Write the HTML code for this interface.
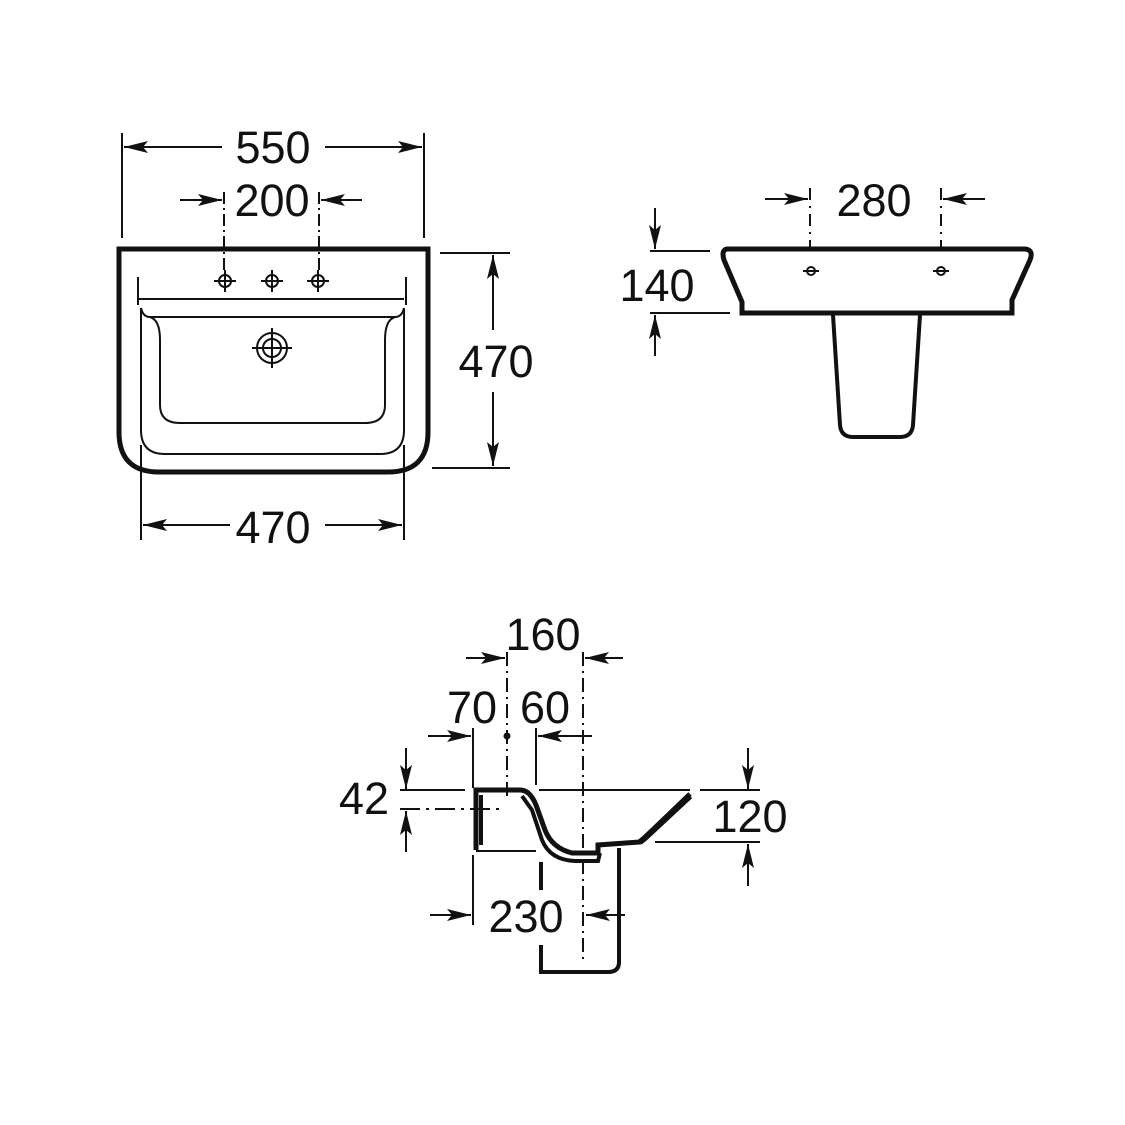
<!DOCTYPE html>
<html><head><meta charset="utf-8"><style>
html,body{margin:0;padding:0;background:#fff;}
svg{display:block;}
text{font-family:"Liberation Sans",Arial,sans-serif;font-size:45px;fill:#111;}
</style></head><body>
<svg width="1125" height="1125" viewBox="0 0 1125 1125" xmlns="http://www.w3.org/2000/svg">
<defs>
<marker id="a" viewBox="0 0 24 12" refX="24" refY="6" markerWidth="24" markerHeight="12" markerUnits="userSpaceOnUse" orient="auto">
<path d="M0,0 L24,6 L0,12 L5,6 Z" fill="#111"/>
</marker>
</defs>
<g stroke="#111" fill="none" stroke-width="2">
<!-- FRONT VIEW -->
<line x1="122" y1="133" x2="122" y2="238"/>
<line x1="424" y1="133" x2="424" y2="238"/>
<line x1="222" y1="147" x2="124" y2="147" marker-end="url(#a)"/>
<line x1="325" y1="147" x2="422" y2="147" marker-end="url(#a)"/>
<line x1="180" y1="200" x2="222" y2="200" marker-end="url(#a)"/>
<line x1="362" y1="200" x2="321" y2="200" marker-end="url(#a)"/>
<line x1="224" y1="192" x2="224" y2="270" stroke-dasharray="12,4,2,4"/>
<line x1="319" y1="192" x2="319" y2="270" stroke-dasharray="12,4,2,4"/>
<path d="M119,249 L428,249 L428,432 Q428,472 388,472 L159,472 Q119,472 119,432 Z" stroke-width="5"/>
<line x1="138" y1="277" x2="138" y2="305"/>
<line x1="406" y1="277" x2="406" y2="305"/>
<line x1="139" y1="299" x2="404" y2="299"/>
<path d="M141,308 L141,430 Q141,454 165,454 L380,454 Q404,454 404,430 L404,308"/>
<path d="M141,308 Q143,317 150,317 L395,317 Q402,317 404,308"/>
<path d="M150,317 Q160,320 160,340 L160,405 Q160,423 180,423 L365,423 Q385,423 385,405 L385,340 Q385,320 395,317"/>
<line x1="141" y1="445" x2="141" y2="540"/>
<line x1="404" y1="445" x2="404" y2="540"/>
<g stroke-width="2">
<circle cx="225" cy="281" r="6"/><line x1="214" y1="281" x2="236" y2="281"/><line x1="225" y1="270" x2="225" y2="292"/>
<circle cx="272" cy="281" r="6"/><line x1="261" y1="281" x2="283" y2="281"/><line x1="272" y1="270" x2="272" y2="292"/>
<circle cx="318" cy="281" r="6"/><line x1="307" y1="281" x2="329" y2="281"/><line x1="318" y1="270" x2="318" y2="292"/>
<circle cx="272" cy="348" r="9"/><circle cx="272" cy="348" r="15"/>
<line x1="252" y1="348" x2="292" y2="348"/><line x1="272" y1="328" x2="272" y2="368"/>
</g>
<line x1="440" y1="253" x2="510" y2="253"/>
<line x1="432" y1="468" x2="510" y2="468"/>
<line x1="493" y1="330" x2="493" y2="255" marker-end="url(#a)"/>
<line x1="493" y1="392" x2="493" y2="466" marker-end="url(#a)"/>
<line x1="230" y1="525" x2="143" y2="525" marker-end="url(#a)"/>
<line x1="325" y1="525" x2="402" y2="525" marker-end="url(#a)"/>

<!-- SIDE VIEW TOP RIGHT -->
<path d="M727,249 L1025,249 Q1034,250 1030,260 L1012,300 L1012,313 L742,313 L742,302 L724,260 Q721,250 727,249 Z" stroke-width="5"/>
<path d="M833,315 L840,425 Q841,437 853,437 L900,437 Q912,437 913,425 L920,315" stroke-width="4"/>
<line x1="810" y1="188" x2="810" y2="248" stroke-dasharray="12,6,2,6"/>
<line x1="941" y1="188" x2="941" y2="248" stroke-dasharray="12,6,2,6"/>
<line x1="765" y1="199" x2="808" y2="199" marker-end="url(#a)"/>
<line x1="985" y1="199" x2="943" y2="199" marker-end="url(#a)"/>
<circle cx="811" cy="271" r="4"/><line x1="803" y1="271" x2="819" y2="271"/>
<circle cx="941" cy="271" r="4"/><line x1="933" y1="271" x2="949" y2="271"/>
<line x1="650" y1="251" x2="710" y2="251"/>
<line x1="650" y1="313" x2="730" y2="313"/>
<line x1="655" y1="208" x2="655" y2="249" marker-end="url(#a)"/>
<line x1="655" y1="356" x2="655" y2="315" marker-end="url(#a)"/>

<!-- SECTION BOTTOM -->
<line x1="507" y1="652" x2="507" y2="800" stroke-dasharray="14,5,2,5"/>
<line x1="583" y1="652" x2="583" y2="960" stroke-dasharray="14,5,2,5"/>
<line x1="466" y1="658" x2="505" y2="658" marker-end="url(#a)"/>
<line x1="623" y1="658" x2="585" y2="658" marker-end="url(#a)"/>
<line x1="428" y1="736" x2="471" y2="736" marker-end="url(#a)"/>
<line x1="592" y1="736" x2="538" y2="736" marker-end="url(#a)"/>
<line x1="473" y1="728" x2="473" y2="788"/>
<line x1="536" y1="728" x2="536" y2="785"/>
<line x1="400" y1="790" x2="465" y2="790"/>
<line x1="400" y1="809" x2="500" y2="809" stroke-dasharray="20,6,3,6"/>
<line x1="406" y1="748" x2="406" y2="789" marker-end="url(#a)"/>
<line x1="406" y1="852" x2="406" y2="811" marker-end="url(#a)"/>
<line x1="700" y1="790" x2="760" y2="790"/>
<line x1="655" y1="842" x2="760" y2="842"/>
<line x1="748" y1="748" x2="748" y2="789" marker-end="url(#a)"/>
<line x1="748" y1="886" x2="748" y2="844" marker-end="url(#a)"/>
<line x1="539" y1="790" x2="690" y2="790"/>
<path d="M476,850 L476,790 L520,790 Q530,790 536,805 L545,830 Q552,848 572,853 L598,853 L598,845 L640,842 L690,794" stroke-width="5"/>
<path d="M481,795 L481,845 M522,796 L532,810 L542,840 Q550,860 575,861 L598,861 L600,853" stroke-width="4"/>
<path d="M640,842 L645,838 L690,796" stroke-width="6"/>
<line x1="476" y1="851" x2="536" y2="851"/>
<line x1="473" y1="855" x2="473" y2="925"/>
<path d="M619,848 L619,962 Q619,972 608,972 L541,972 L541,945" stroke-width="4"/>
<line x1="541" y1="862" x2="541" y2="890" stroke-width="4"/>
<line x1="430" y1="915" x2="471" y2="915" marker-end="url(#a)"/>
<line x1="625" y1="915" x2="586" y2="915" marker-end="url(#a)"/>
</g>
<circle cx="507" cy="736" r="3.5" fill="#111"/>
<g>
<text x="273" y="163" text-anchor="middle">550</text>
<text x="272" y="216" text-anchor="middle">200</text>
<text x="496" y="377" text-anchor="middle">470</text>
<text x="273" y="543" text-anchor="middle">470</text>
<text x="874" y="216" text-anchor="middle">280</text>
<text x="657" y="301" text-anchor="middle">140</text>
<text x="543" y="650" text-anchor="middle">160</text>
<text x="472" y="723" text-anchor="middle">70</text>
<text x="545" y="723" text-anchor="middle">60</text>
<text x="364" y="814" text-anchor="middle">42</text>
<text x="750" y="832" text-anchor="middle">120</text>
<text x="526" y="932" text-anchor="middle">230</text>
</g>
</svg>
</body></html>
